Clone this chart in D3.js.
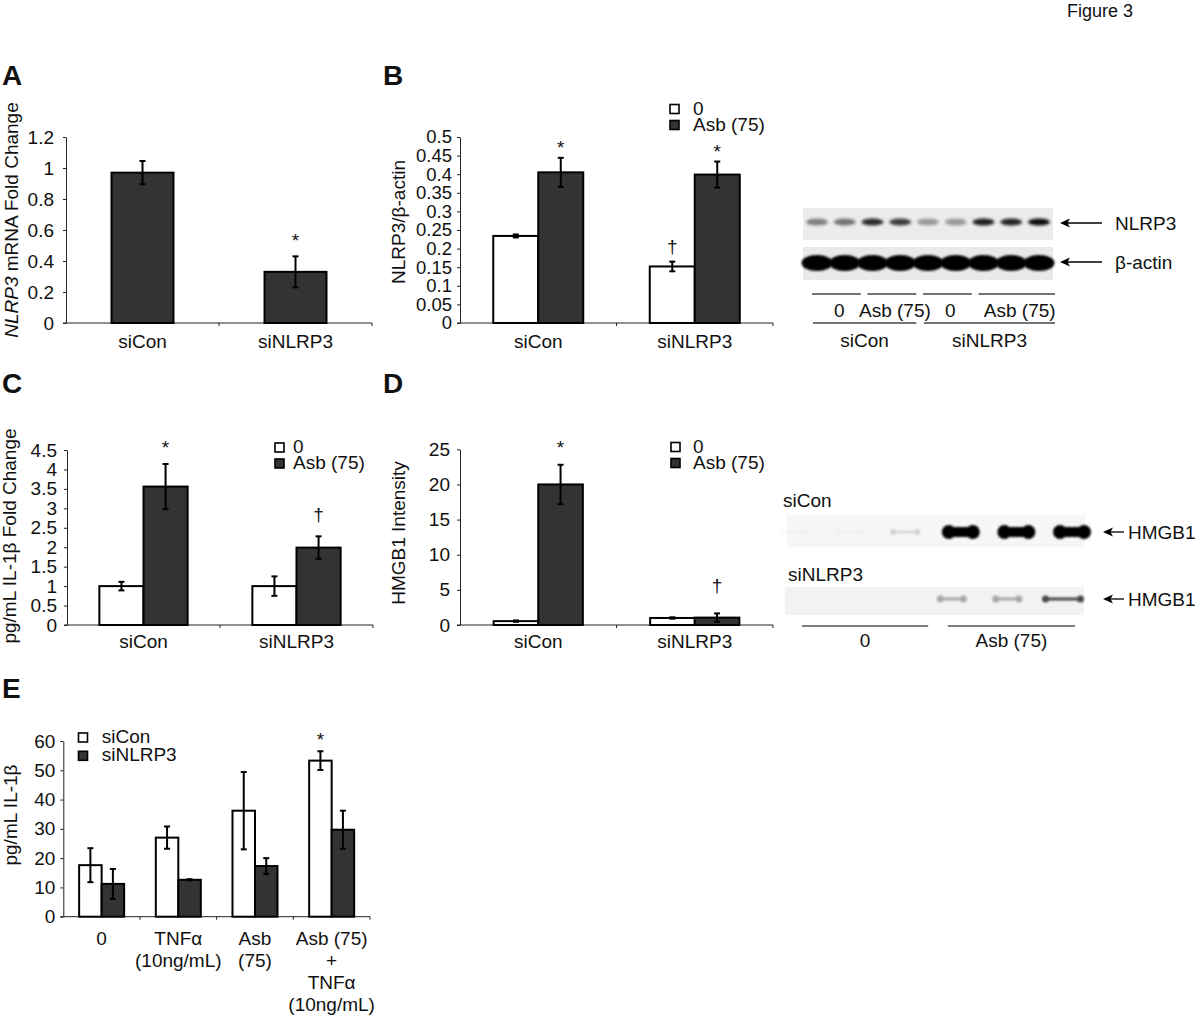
<!DOCTYPE html>
<html><head><meta charset="utf-8">
<script src="https://cdn.jsdelivr.net/npm/d3@7"></script>
<style>
body{margin:0;background:#fff;}
svg{display:block;font-family:"Liberation Sans",Arial,sans-serif;}
</style></head><body>
<svg id="fig" width="1200" height="1019"></svg>
<script>
// ---------------- DATA ----------------
const catsAB = ["siCon", "siNLRP3"];
const treatSeries = ["0", "Asb (75)"];

// Panel A
const aMean = [0.97, 0.33];
const aErr = [0.075, 0.10];
const aTicks = [0, 0.2, 0.4, 0.6, 0.8, 1, 1.2];
const aTickLabels = ["0", "0.2", "0.4", "0.6", "0.8", "1", "1.2"];

// Panel B
const bMean0 = [0.234, 0.152];
const bErr0 = [0.004, 0.013];
const bMeanAsb = [0.405, 0.399];
const bErrAsb = [0.039, 0.035];
const bTicks = [0, 0.05, 0.1, 0.15, 0.2, 0.25, 0.3, 0.35, 0.4, 0.45, 0.5];
const bTickLabels = ["0", "0.05", "0.1", "0.15", "0.2", "0.25", "0.3", "0.35", "0.4", "0.45", "0.5"];

// Panel C
const cMean0 = [1.0, 1.0];
const cErr0 = [0.11, 0.25];
const cMeanAsb = [3.56, 1.99];
const cErrAsb = [0.58, 0.29];
const cTicks = [0, 0.5, 1, 1.5, 2, 2.5, 3, 3.5, 4, 4.5];
const cTickLabels = ["0", "0.5", "1", "1.5", "2", "2.5", "3", "3.5", "4", "4.5"];

// Panel D
const dMean0 = [0.55, 1.0];
const dErr0 = [0.1, 0.1];
const dMeanAsb = [20.0, 1.05];
const dErrAsb = [2.8, 0.6];
const dTicks = [0, 5, 10, 15, 20, 25];
const dTickLabels = ["0", "5", "10", "15", "20", "25"];

// Panel E
const eCats = ["0", "TNFα (10ng/mL)", "Asb (75)", "Asb (75) + TNFα (10ng/mL)"];
const eCatLines = [["0"], ["TNFα", "(10ng/mL)"], ["Asb", "(75)"], ["Asb (75)", "+", "TNFα", "(10ng/mL)"]];
const eSeries = ["siCon", "siNLRP3"];
const eMeanSiCon = [17.6, 27.0, 36.2, 53.3];
const eErrSiCon = [5.8, 3.8, 13.2, 3.2];
const eMeanSiNLRP3 = [11.2, 12.6, 17.3, 29.7];
const eErrSiNLRP3 = [5.1, 0.2, 2.7, 6.5];
const eTicks = [0, 10, 20, 30, 40, 50, 60];
const eTickLabels = ["0", "10", "20", "30", "40", "50", "60"];

// Western blots
const blotBLanes = [0, 1, 2, 3, 4, 5, 6, 7, 8];
const nlrp3Intensity = [0.45, 0.5, 0.82, 0.75, 0.35, 0.35, 0.88, 0.85, 0.95];
const actinIntensity = [1, 1, 1, 1, 1, 1, 1, 1, 1];
const blotBTreatGroups = [["0", 0, 1], ["Asb (75)", 2, 3], ["0", 4, 5], ["Asb (75)", 6, 8]];
const blotBSiGroups = [["siCon", 0, 3], ["siNLRP3", 4, 8]];

const blotDLanes = [0, 1, 2, 3, 4, 5];
const hmgbSiCon = [0.02, 0.02, 0.15, 1, 1, 1];
const hmgbSiNLRP3 = [0, 0, 0, 0.3, 0.3, 0.7];
const blotDGroups = [["0", 0, 2], ["Asb (75)", 3, 5]];

// ---------------- DRAWING ----------------
const svg = d3.select('#fig');
const FS = 19;
const DARK = '#333333';
const FONT = '"Liberation Sans", Arial, sans-serif';

const defs = svg.append('defs');
defs.append('filter').attr('id', 'blur').attr('x', '-50%').attr('y', '-100%').attr('width', '200%').attr('height', '300%')
  .append('feGaussianBlur').attr('stdDeviation', 1.7);
defs.append('filter').attr('id', 'blur2').attr('x', '-50%').attr('y', '-100%').attr('width', '200%').attr('height', '300%')
  .append('feGaussianBlur').attr('stdDeviation', 1.0);

function txt(g, x, y, s, opts = {}) {
  return g.append('text').attr('x', x).attr('y', y).text(s)
    .attr('font-size', opts.fs || FS).attr('font-family', FONT)
    .attr('font-weight', opts.bold ? 'bold' : null)
    .attr('text-anchor', opts.anchor || 'start').attr('fill', '#111');
}

function barPanel(p) {
  const g = svg.append('g');
  const y = d3.scaleLinear().domain([0, p.yMax]).range([p.yZero, p.yTop]);
  const x = d3.scaleBand().domain(p.categories).range([p.x0, p.x1]);
  const gw = x.bandwidth() * p.groupFrac;
  const xs = d3.scaleBand().domain(p.series).range([0, gw]);

  // y axis
  const ya = d3.axisLeft(y).tickValues(p.ticks).tickFormat((d, i) => p.tickLabels[i])
    .tickSizeInner(3).tickSizeOuter(0).tickPadding(p.tickPad);
  const yg = g.append('g').attr('transform', `translate(${p.x0},0)`).call(ya)
    .attr('font-size', p.tickFs || FS).attr('font-family', FONT);
  yg.select('.domain').attr('stroke', '#222');
  yg.selectAll('.tick line').attr('stroke', '#222');
  yg.selectAll('.tick text').attr('fill', '#111');

  // x axis line with band boundary ticks
  g.append('line').attr('x1', p.x0 - 3).attr('x2', p.x1).attr('y1', p.yZero).attr('y2', p.yZero).attr('stroke', '#222');
  const bounds = p.categories.map(c => x(c)).concat([p.x1]);
  g.selectAll('.xt').data(bounds.slice(1)).enter().append('line')
    .attr('x1', d => d).attr('x2', d => d).attr('y1', p.yZero).attr('y2', p.yZero + 3).attr('stroke', '#222');

  // bars
  const rows = [];
  p.series.forEach((s, si) => p.categories.forEach((c, ci) => {
    rows.push({ s, si, c, ci, m: p.means[si][ci], e: p.errs[si][ci] });
  }));
  const bx = d => x(d.c) + (x.bandwidth() - gw) / 2 + xs(d.s);
  g.selectAll('.bar').data(rows).enter().append('rect')
    .attr('x', bx).attr('width', xs.bandwidth())
    .attr('y', d => y(d.m)).attr('height', d => y(0) - y(d.m))
    .attr('fill', d => p.fills[d.si]).attr('stroke', '#000').attr('stroke-width', 2);
  // error bars
  const eg = g.selectAll('.err').data(rows).enter().append('g')
    .attr('transform', d => `translate(${bx(d) + xs.bandwidth() / 2},0)`);
  eg.append('line').attr('y1', d => y(d.m + d.e)).attr('y2', d => y(d.m - d.e)).attr('stroke', '#000').attr('stroke-width', 2);
  eg.append('line').attr('x1', -3).attr('x2', 3).attr('y1', d => y(d.m + d.e)).attr('y2', d => y(d.m + d.e)).attr('stroke', '#000').attr('stroke-width', 2);
  eg.append('line').attr('x1', -3).attr('x2', 3).attr('y1', d => y(d.m - d.e)).attr('y2', d => y(d.m - d.e)).attr('stroke', '#000').attr('stroke-width', 2);

  // significance markers
  (p.markers || []).forEach(mk => {
    const r = rows.find(d => d.si === mk[0] && d.ci === mk[1]);
    txt(g, bx(r) + xs.bandwidth() / 2, y(r.m + r.e) - mk[3], mk[2], { anchor: 'middle' });
  });

  // category labels
  p.categories.forEach((c, ci) => {
    const lines = p.catLines ? p.catLines[ci] : [c];
    lines.forEach((ln, li) => txt(g, x(c) + x.bandwidth() / 2, p.catY + li * 22, ln, { anchor: 'middle' }));
  });

  // y label
  const yl = g.append('text').attr('transform', `translate(${p.ylabX},${p.ylabY}) rotate(-90)`)
    .attr('text-anchor', 'middle').attr('font-size', FS).attr('font-family', FONT).attr('fill', '#111');
  p.ylabel.forEach(part => yl.append('tspan').text(part[0]).attr('font-style', part[1] ? 'italic' : null));

  // legend
  if (p.legend) {
    const L = p.legend;
    p.series.forEach((s, si) => {
      const cy = L.y + si * L.dy;
      g.append('rect').attr('x', L.x).attr('y', cy - 4.5).attr('width', 9).attr('height', 9)
        .attr('fill', p.fills[si]).attr('stroke', '#000').attr('stroke-width', 1.6);
      txt(g, L.tx, cy + 5.5, s, { fs: L.fs || FS });
    });
  }
  // panel letter
  txt(svg, p.letter[1], p.letter[2], p.letter[0], { bold: true, fs: 28 });
}

barPanel({
  letter: ['A', 2, 85], categories: catsAB, series: ['NLRP3'], means: [aMean], errs: [aErr],
  fills: [DARK], x0: 66, x1: 372, yZero: 323, yTop: 137, yMax: 1.2, ticks: aTicks, tickLabels: aTickLabels,
  tickPad: 9, groupFrac: 0.405, catY: 348, ylabX: 18, ylabY: 220,
  ylabel: [['NLRP3', true], [' mRNA Fold Change', false]],
  markers: [[0, 1, '*', 9]]
});

barPanel({
  letter: ['B', 383, 85], categories: catsAB, series: treatSeries, means: [bMean0, bMeanAsb], errs: [bErr0, bErrAsb],
  fills: ['#fff', DARK], x0: 460, x1: 773, yZero: 323, yTop: 137, yMax: 0.5, ticks: bTicks, tickLabels: bTickLabels,
  tickPad: 5, tickFs: 18.5, groupFrac: 0.575, catY: 348, ylabX: 405, ylabY: 222,
  ylabel: [['NLRP3/β-actin', false]],
  markers: [[1, 0, '*', 4], [1, 1, '*', 4], [0, 1, '†', 9]],
  legend: { x: 670, y: 109, dy: 16, tx: 693 }
});

barPanel({
  letter: ['C', 2, 393], categories: catsAB, series: treatSeries, means: [cMean0, cMeanAsb], errs: [cErr0, cErrAsb],
  fills: ['#fff', DARK], x0: 67, x1: 373, yZero: 625, yTop: 450, yMax: 4.5, ticks: cTicks, tickLabels: cTickLabels,
  tickPad: 7, groupFrac: 0.577, catY: 648, ylabX: 16, ylabY: 536,
  ylabel: [['pg/mL IL-1β Fold Change', false]],
  markers: [[1, 0, '*', 10], [1, 1, '†', 15]],
  legend: { x: 275, y: 447.5, dy: 16, tx: 293 }
});

barPanel({
  letter: ['D', 383, 393], categories: catsAB, series: treatSeries, means: [dMean0, dMeanAsb], errs: [dErr0, dErrAsb],
  fills: ['#fff', DARK], x0: 460, x1: 773, yZero: 625, yTop: 449.3, yMax: 25, ticks: dTicks, tickLabels: dTickLabels,
  tickPad: 7, groupFrac: 0.57, catY: 648, ylabX: 405, ylabY: 533,
  ylabel: [['HMGB1 Intensity', false]],
  markers: [[1, 0, '*', 11], [1, 1, '†', 21]],
  legend: { x: 671, y: 447, dy: 16, tx: 693 }
});

barPanel({
  letter: ['E', 2, 698], categories: eCats, catLines: eCatLines, series: eSeries,
  means: [eMeanSiCon, eMeanSiNLRP3], errs: [eErrSiCon, eErrSiNLRP3],
  fills: ['#fff', DARK], x0: 63.3, x1: 370, yZero: 916.7, yTop: 741, yMax: 60, ticks: eTicks, tickLabels: eTickLabels,
  tickPad: 5, groupFrac: 0.587, catY: 945, ylabX: 17, ylabY: 815,
  ylabel: [['pg/mL IL-1β', false]],
  markers: [[0, 3, '*', 5]],
  legend: { x: 78.5, y: 737.5, dy: 18.3, tx: 101.7 }
});

// Figure title
txt(svg, 1067, 17, 'Figure 3', { fs: 18 });

function arrow(g, x1, x2, yy) {
  g.append('line').attr('x1', x1 + 6).attr('x2', x2).attr('y1', yy).attr('y2', yy).attr('stroke', '#000').attr('stroke-width', 1.3);
  g.append('path').attr('d', `M${x1},${yy} L${x1 + 10},${yy - 4.5} L${x1 + 7.5},${yy} L${x1 + 10},${yy + 4.5} Z`).attr('fill', '#000');
}

// ---------- Blot B ----------
(function () {
  const g = svg.append('g');
  const lx = d3.scalePoint().domain(blotBLanes).range([817, 1039]);
  g.append('rect').attr('x', 803).attr('y', 208).attr('width', 250).attr('height', 32).attr('fill', '#ececec');
  g.append('rect').attr('x', 803).attr('y', 247).attr('width', 250).attr('height', 33).attr('fill', '#e9e9e9');
  g.selectAll('.nl').data(blotBLanes).enter().append('ellipse')
    .attr('cx', d => lx(d)).attr('cy', 222).attr('rx', 11).attr('ry', 3.6)
    .attr('fill', '#000').attr('opacity', d => nlrp3Intensity[d]).attr('filter', 'url(#blur)');
  g.selectAll('.ac').data(blotBLanes).enter().append('ellipse')
    .attr('cx', d => lx(d)).attr('cy', 263).attr('rx', 15.5).attr('ry', 8)
    .attr('fill', '#000').attr('opacity', d => actinIntensity[d]).attr('filter', 'url(#blur2)');
  arrow(g, 1060, 1102, 223); arrow(g, 1060, 1102, 262);
  txt(g, 1115, 230, 'NLRP3');
  txt(g, 1115, 269, 'β-actin');
  blotBTreatGroups.forEach(([lab, a, b]) => {
    const x1 = lx(a) - 5, x2 = lx(b) + 16;
    g.append('line').attr('x1', x1).attr('x2', x2).attr('y1', 294).attr('y2', 294).attr('stroke', '#444').attr('stroke-width', 1.3);
    txt(g, (x1 + x2) / 2 + 3, 317, lab, { anchor: 'middle' });
  });
  blotBSiGroups.forEach(([lab, a, b]) => {
    const x1 = lx(a) - 4, x2 = lx(b) + 16;
    g.append('line').attr('x1', x1).attr('x2', x2).attr('y1', 323).attr('y2', 323).attr('stroke', '#444').attr('stroke-width', 1.3);
    txt(g, (x1 + x2) / 2, 347, lab, { anchor: 'middle' });
  });
})();

// ---------- Blot D ----------
(function () {
  const g = svg.append('g');
  const lx = d3.scalePoint().domain(blotDLanes).range([797, 1075]);
  txt(g, 783, 507, 'siCon');
  txt(g, 788, 581, 'siNLRP3');
  g.append('rect').attr('x', 787).attr('y', 515).attr('width', 298).attr('height', 32).attr('fill', '#f6f6f6');
  g.append('rect').attr('x', 785).attr('y', 587).attr('width', 299).attr('height', 28).attr('fill', '#f2f2f2');
  const drawBand = (cx, cy, w, h, op) => {
    if (op <= 0) return;
    const gg = g.append('g').attr('opacity', op).attr('filter', 'url(#blur2)');
    gg.append('ellipse').attr('cx', cx - w / 2 + h / 2).attr('cy', cy).attr('rx', h / 2 + 1).attr('ry', h / 2 + 1).attr('fill', '#000');
    gg.append('ellipse').attr('cx', cx + w / 2 - h / 2).attr('cy', cy).attr('rx', h / 2 + 1).attr('ry', h / 2 + 1).attr('fill', '#000');
    gg.append('rect').attr('x', cx - w / 2 + h / 2).attr('y', cy - h / 2 + 1).attr('width', w - h).attr('height', h - 2).attr('fill', '#000');
  };
  blotDLanes.forEach(i => drawBand(lx(i) - 3, 532, hmgbSiCon[i] > 0.5 ? 36 : 28, hmgbSiCon[i] > 0.5 ? 12 : 4, hmgbSiCon[i]));
  blotDLanes.forEach(i => drawBand(lx(i) - 12, 599, i === 5 ? 40 : 28, 5, hmgbSiNLRP3[i]));
  arrow(g, 1103, 1124, 532); arrow(g, 1103, 1124, 599);
  txt(g, 1128, 539, 'HMGB1');
  txt(g, 1128, 606, 'HMGB1');
  const ends = [[5, 20], [-16, 0]];
  blotDGroups.forEach(([lab, a, b], gi) => {
    const x1 = lx(a) + ends[gi][0], x2 = lx(b) + ends[gi][1];
    g.append('line').attr('x1', x1).attr('x2', x2).attr('y1', 626).attr('y2', 626).attr('stroke', '#555').attr('stroke-width', 1.4);
    txt(g, (x1 + x2) / 2, 647, lab, { anchor: 'middle' });
  });
})();
</script>
</body></html>
